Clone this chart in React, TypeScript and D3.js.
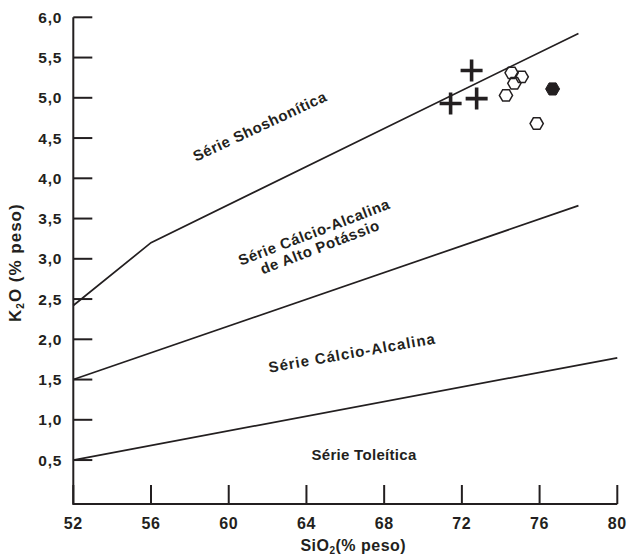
import React from "react";
import * as d3 from "d3";

const sio2Ticks = [52, 56, 60, 64, 68, 72, 76, 80];
const k2oTicks = [0.5, 1.0, 1.5, 2.0, 2.5, 3.0, 3.5, 4.0, 4.5, 5.0, 5.5, 6.0];

// Boundary lines (SiO2, K2O)
const shoshoniticLineSiO2 = [52, 56, 78];
const shoshoniticLineK2O = [2.42, 3.2, 5.8];
const highKLineSiO2 = [52, 78];
const highKLineK2O = [1.5, 3.66];
const tholeiiticLineSiO2 = [52, 80];
const tholeiiticLineK2O = [0.5, 1.77];

// Samples
const crossSiO2 = [72.5, 71.42, 72.76];
const crossK2O = [5.34, 4.93, 4.99];
const openSiO2 = [74.56, 75.08, 74.7, 74.27, 75.85];
const openK2O = [5.31, 5.26, 5.18, 5.03, 4.68];
const filledSiO2 = [76.67];
const filledK2O = [5.11];

const W = 631;
const H = 555;
const FONT = "'Liberation Sans', Arial, Helvetica, sans-serif";
const INK = "#231f20";

const x = d3.scaleLinear().domain([52, 80]).range([73.3, 617.3]);
const y = d3.scaleLinear().domain([0, 6]).range([500.3, 17.3]);
const axisBottomY = 504;

const line = d3
  .line<[number, number]>()
  .x((d) => x(d[0]))
  .y((d) => y(d[1]));

const zip = (a: number[], b: number[]) => a.map((v, i) => [v, b[i]] as [number, number]);

const hexPath = (cx: number, cy: number, r: number) => {
  const pts = d3.range(6).map((i) => {
    const a = (Math.PI / 3) * i;
    return [cx + r * Math.cos(a), cy + r * Math.sin(a)];
  });
  return "M" + pts.map((p) => p.join(",")).join("L") + "Z";
};

const fmt = (v: number) => v.toFixed(1).replace(".", ",");

export default function App() {
  const tickLen = 19;
  return (
    <svg
      width={W}
      height={H}
      style={{ position: "absolute", left: 0, top: 0, background: "#fff" }}
      fontFamily={FONT}
      fontWeight={700}
    >
      <rect width={W} height={H} fill="#fff" />
      {/* Axes */}
      <path
        d={`M${x(52)},${y(6)}V${axisBottomY}H${x(80)}`}
        fill="none"
        stroke={INK}
        strokeWidth={2}
      />
      {k2oTicks.map((t) => (
        <g key={"yt" + t}>
          <line x1={x(52)} x2={x(52) + tickLen} y1={y(t)} y2={y(t)} stroke={INK} strokeWidth={2} />
          <text
            x={x(52) - 11}
            y={y(t) + 5.5}
            textAnchor="end"
            fontSize={15.5}
            letterSpacing={0.8}
            fill={INK}
          >
            {fmt(t)}
          </text>
        </g>
      ))}
      {sio2Ticks.map((t) => (
        <g key={"xt" + t}>
          <line x1={x(t)} x2={x(t)} y1={axisBottomY} y2={axisBottomY - tickLen} stroke={INK} strokeWidth={2} />
          <text
            x={x(t)}
            y={529}
            textAnchor="middle"
            fontSize={16}
            letterSpacing={0.6}
            fill={INK}
          >
            {t}
          </text>
        </g>
      ))}
      <text x={(x(52) + x(80)) / 2 + 8} y={551} textAnchor="middle" fontSize={16} letterSpacing={0.5} fill={INK}>
        SiO<tspan fontSize={10} dy={3}>2</tspan>
        <tspan dy={-3}>(% peso)</tspan>
      </text>
      <text
        transform={`translate(21,${(y(6) + axisBottomY) / 2 + 2}) rotate(-90)`}
        textAnchor="middle"
        fontSize={17}
        letterSpacing={1}
        fill={INK}
      >
        K<tspan fontSize={10} dy={3}>2</tspan>
        <tspan dy={-3}>O (% peso)</tspan>
      </text>

      {/* Boundary lines */}
      <path d={line(zip(shoshoniticLineSiO2, shoshoniticLineK2O)) || ""} fill="none" stroke={INK} strokeWidth={1.7} />
      <path d={line(zip(highKLineSiO2, highKLineK2O)) || ""} fill="none" stroke={INK} strokeWidth={1.7} />
      <path d={line(zip(tholeiiticLineSiO2, tholeiiticLineK2O)) || ""} fill="none" stroke={INK} strokeWidth={1.7} />

      {/* Field labels */}
      <text
        transform="translate(262,131) rotate(-25)"
        textAnchor="middle"
        fontSize={15}
        letterSpacing={0.6}
        fill={INK}
      >
        Série Shoshonítica
      </text>
      <text
        transform="translate(316,237) rotate(-21)"
        textAnchor="middle"
        fontSize={15}
        letterSpacing={0.6}
        fill={INK}
      >
        <tspan x={0} dy={0}>Série Cálcio-Alcalina</tspan>
        <tspan x={0} dy={16}>de Alto Potássio</tspan>
      </text>
      <text
        transform="translate(353,358) rotate(-10)"
        textAnchor="middle"
        fontSize={15}
        letterSpacing={1}
        fill={INK}
      >
        Série Cálcio-Alcalina
      </text>
      <text x={364} y={460} textAnchor="middle" fontSize={15} letterSpacing={0.3} fill={INK}>
        Série Toleítica
      </text>

      {/* Samples: crosses */}
      {crossSiO2.map((s, i) => {
        const cx = x(s);
        const cy = y(crossK2O[i]);
        const a = 11;
        return (
          <path
            key={"c" + i}
            d={`M${cx - a},${cy}H${cx + a}M${cx},${cy - a}V${cy + a}`}
            stroke={INK}
            strokeWidth={3.6}
            fill="none"
          />
        );
      })}
      {/* Open hexagons */}
      {openSiO2.map((s, i) => (
        <path
          key={"o" + i}
          d={hexPath(x(s), y(openK2O[i]), 6.6)}
          fill="none"
          stroke={INK}
          strokeWidth={1.5}
        />
      ))}
      {/* Filled hexagon */}
      {filledSiO2.map((s, i) => (
        <path
          key={"f" + i}
          d={hexPath(x(s), y(filledK2O[i]), 7)}
          fill={INK}
          stroke={INK}
          strokeWidth={1}
        />
      ))}
    </svg>
  );
}
